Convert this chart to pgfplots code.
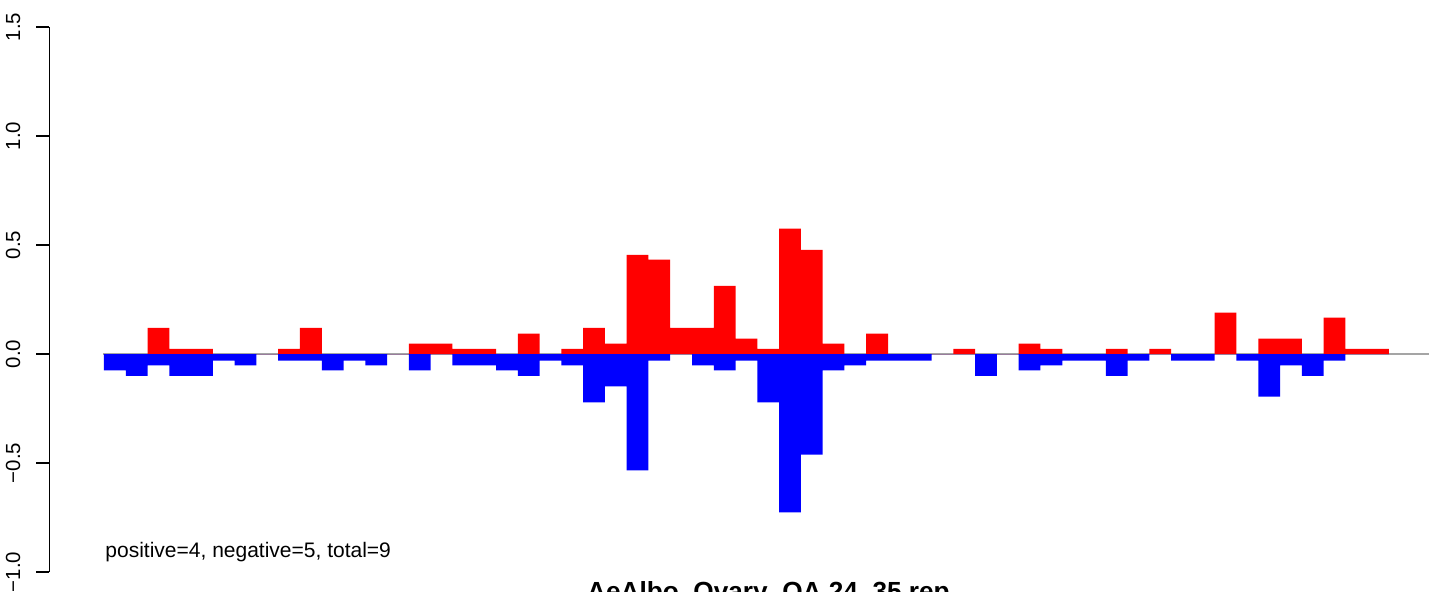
\documentclass[border=0pt]{standalone}
\usepackage{fontspec}
\setmainfont{Liberation Sans}
\usepackage{pgfplots}
\usepackage{pgfplotstable}
\pgfplotsset{compat=1.18}
\pgfplotstableread{
x pos neg
0.5 0 -0.075
1.5 0 -0.10
2.5 0.12 -0.052
3.5 0.024 -0.10
4.5 0.024 -0.10
5.5 0 -0.03
6.5 0 -0.052
7.5 0 0
8.5 0.024 -0.03
9.5 0.12 -0.03
10.5 0 -0.075
11.5 0 -0.03
12.5 0 -0.052
13.5 0 0
14.5 0.048 -0.075
15.5 0.048 0
16.5 0.024 -0.052
17.5 0.024 -0.052
18.5 0 -0.075
19.5 0.093 -0.10
20.5 0 -0.03
21.5 0.024 -0.052
22.5 0.12 -0.222
23.5 0.048 -0.149
24.5 0.455 -0.534
25.5 0.433 -0.03
26.5 0.12 0
27.5 0.12 -0.052
28.5 0.313 -0.075
29.5 0.07 -0.03
30.5 0.024 -0.222
31.5 0.575 -0.727
32.5 0.478 -0.461
33.5 0.048 -0.075
34.5 0 -0.052
35.5 0.093 -0.03
36.5 0 -0.03
37.5 0 -0.03
38.5 0 0
39.5 0.024 0
40.5 0 -0.10
41.5 0 0
42.5 0.048 -0.075
43.5 0.024 -0.052
44.5 0 -0.03
45.5 0 -0.03
46.5 0.024 -0.10
47.5 0 -0.03
48.5 0.024 0
49.5 0 -0.03
50.5 0 -0.03
51.5 0.19 0
52.5 0 -0.03
53.5 0.07 -0.196
54.5 0.07 -0.052
55.5 0 -0.10
56.5 0.167 -0.03
57.5 0.024 0
58.5 0.024 0
}\bars
\begin{document}
\begin{tikzpicture}
\begin{axis}[
  at={(24.75pt,9.5pt)}, anchor=south west,
  scale only axis, width=689.75pt, height=272.5pt,
  xmin=-2.502, xmax=60.84, ymin=-1, ymax=1.5,
  axis x line=none, axis y line*=left,
  ytick={-1,-0.5,0,0.5,1,1.5},
  yticklabels={−1.0,−0.5,0.0,0.5,1.0,1.5},
  tick align=outside, major tick length=6.5pt,
  every axis y line/.style={line width=1pt},
  ytick style={line width=1pt, black},
  yticklabel style={xshift=-4.5pt, rotate=90, anchor=south, font=\fontsize{10.2pt}{12pt}\selectfont},
  clip=false,
]
\addplot[color={rgb,255:red,165;green,165;blue,165}, line width=1.2pt] coordinates {(-0.05,0) (60.84,0)};
\addplot[ybar, bar width=1, bar shift=0, fill={rgb,255:red,255;green,0;blue,0}, draw=none] table[x=x, y=pos] {\bars};
\addplot[ybar, bar width=1, bar shift=0, fill={rgb,255:red,0;green,0;blue,255}, draw=none] table[x=x, y=neg] {\bars};
\node[anchor=base west, font=\fontsize{10.5pt}{12pt}\selectfont, inner sep=0pt] at (axis cs:0.05,-0.934) {positive=4, negative=5, total=9};
\end{axis}
\node[anchor=base, font=\fontsize{13.1pt}{15pt}\selectfont\bfseries, inner sep=0pt] at (384.25pt,-4.9pt) {AeAlbo\_Ovary\_OA 24\_35 rep};
\pgfresetboundingbox
\useasboundingbox (0,0) rectangle (714.5pt,295.5pt);
\end{tikzpicture}
\end{document}
